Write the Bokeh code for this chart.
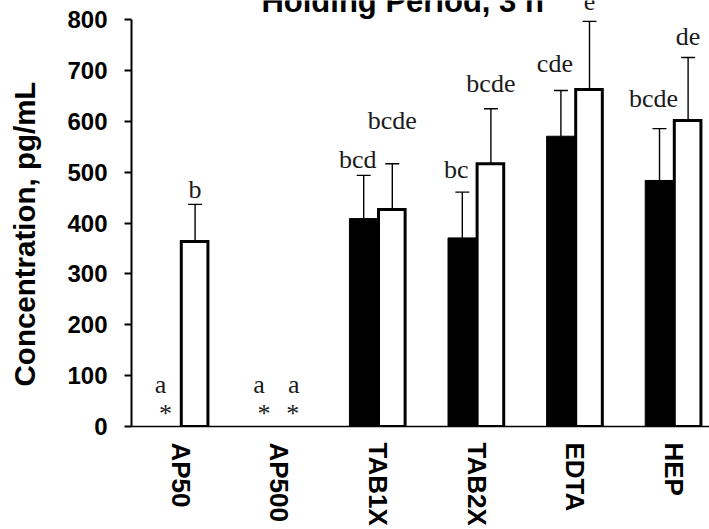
import math

from bokeh.core.properties import value
from bokeh.embed import file_html
from bokeh.layouts import row
from bokeh.models import ColumnDataSource, FixedTicker, Range1d, TeeHead, Whisker
from bokeh.plotting import figure
from bokeh.resources import INLINE

# ---- data -------------------------------------------------------------
categories = ["AP50", "AP500", "TAB1X", "TAB2X", "EDTA", "HEP"]

solid_mean = [0, 0, 409, 371, 571, 484]
solid_err = [0, 0, 85, 90, 90, 102]
solid_letters = ["a", "a", "bcd", "bc", "cde", "bcde"]

open_mean = [364, 0, 427, 517, 663, 602]
open_err = [73, 0, 90, 108, 134, 124]
open_letters = ["b", "a", "bcde", "bcde", "e", "de"]

y_ticks = [0, 100, 200, 300, 400, 500, 600, 700, 800]

# ---- layout / style ---------------------------------------------------
BAR_W = 0.29
SANS = "Liberation Sans"
SERIF = "Liberation Serif"
LABEL_W = 44          # strip on the far left that holds the y title
# pixel gap between the top of each whisker (or the axis) and its letter
solid_gap = [42, 42, 16, 23, 27, 30]
open_gap = [15, 42, 43, 25, 20, 21]
solid_shift = -6
open_shift = 0

# ---- y title strip ----------------------------------------------------
side = figure(
    width=LABEL_W, height=529,
    x_range=Range1d(0, LABEL_W), y_range=Range1d(0, 529),
    x_axis_location=None, y_axis_location=None,
    output_backend="svg", toolbar_location=None,
    min_border_left=0, min_border_right=0, min_border_top=0, min_border_bottom=0,
)
side.outline_line_color = None
side.xgrid.visible = False
side.ygrid.visible = False
side.text(x=[24], y=[239], text=["Concentration, pg/mL"], angle=math.pi / 2,
          text_font=value(SANS), text_font_style="bold", text_font_size="29.5px",
          text_color="black", text_align="center", text_baseline="alphabetic")

# ---- main chart -------------------------------------------------------
p = figure(
    width=709 - LABEL_W, height=529,
    x_range=Range1d(-0.5, 5.362), y_range=Range1d(0, 838),
    output_backend="svg", toolbar_location=None,
    min_border_left=131 - LABEL_W, min_border_right=0,
    min_border_top=0, min_border_bottom=103,
)
p.outline_line_color = None
p.xgrid.visible = False
p.ygrid.visible = False
p.background_fill_color = "white"

idx = list(range(len(categories)))
solid_x = [i - BAR_W / 2 for i in idx]
open_x = [i + BAR_W / 2 for i in idx]

# bars (zero means are not drawn as bars)
sb = ColumnDataSource(dict(
    x=[x for x, m in zip(solid_x, solid_mean) if m > 0],
    top=[m for m in solid_mean if m > 0],
))
ob = ColumnDataSource(dict(
    x=[x - 0.005 for x, m in zip(open_x, open_mean) if m > 0],
    top=[m for m in open_mean if m > 0],
))
p.vbar(x="x", top="top", bottom=0, width=BAR_W, source=sb,
       fill_color="black", line_color="black", line_width=1)
p.vbar(x="x", top="top", bottom=0, width=BAR_W - 0.02, source=ob,
       fill_color="white", line_color="black", line_width=3, line_join="miter")

# upper error bars
ex, elo, ehi = [], [], []
for xs, ms, es in ((solid_x, solid_mean, solid_err), (open_x, open_mean, open_err)):
    for x, m, e in zip(xs, ms, es):
        if e > 0:
            ex.append(x)
            elo.append(m)
            ehi.append(m + e)
es_src = ColumnDataSource(dict(x=ex, lower=elo, upper=ehi))
p.add_layout(Whisker(
    source=es_src, base="x", lower="lower", upper="upper", dimension="height",
    line_color="black", line_width=1.4, level="glyph",
    upper_head=TeeHead(size=14, line_color="black", line_width=1.4),
    lower_head=None,
))

# significance letters
lx, ly, lt, lyo, lxo = [], [], [], [], []
for xs, ms, es, letters, gaps, shift in (
    (solid_x, solid_mean, solid_err, solid_letters, solid_gap, solid_shift),
    (open_x, open_mean, open_err, open_letters, open_gap, open_shift),
):
    for x, m, e, t, g in zip(xs, ms, es, letters, gaps):
        lx.append(x)
        ly.append(m + e)
        lt.append(t)
        lyo.append(-g)
        lxo.append(shift)
p.text(x="x", y="y", text="text", x_offset="xo", y_offset="yo",
       source=ColumnDataSource(dict(x=lx, y=ly, text=lt, xo=lxo, yo=lyo)),
       text_font=value(SERIF), text_font_size="26px", text_color="#1a1a1a",
       text_align="center", text_baseline="alphabetic")

# asterisks mark groups below detection (mean of zero)
sx = [x for x, m in zip(solid_x, solid_mean) if m == 0] + \
     [x for x, m in zip(open_x, open_mean) if m == 0]
sy = [0] * len(sx)
p.text(x=sx, y=sy, text=["*"] * len(sx), x_offset=-1, y_offset=-13,
       text_font=value(SERIF), text_font_size="26px", text_color="#1a1a1a",
       text_align="center", text_baseline="alphabetic")

# chart title, sitting at the very top of the plotting area
p.text(x=[2.25], y=[815], text=["Holding Period, 3 h"], y_offset=-11,
       text_font=value(SANS), text_font_style="bold", text_font_size="31px",
       text_color="black", text_align="center", text_baseline="alphabetic")

# axes
ya = p.yaxis[0]
ya.ticker = FixedTicker(ticks=y_ticks)
ya.bounds = (0, 800)
ya.axis_line_width = 2
ya.axis_line_color = "black"
ya.major_tick_line_width = 2
ya.major_tick_line_color = "black"
ya.major_tick_out = 7
ya.major_tick_in = 0
ya.minor_tick_line_color = None
ya.major_label_standoff = 17
ya.major_label_text_font = SANS
ya.major_label_text_font_style = "bold"
ya.major_label_text_font_size = "24px"
ya.major_label_text_color = "black"

xa = p.xaxis[0]
xa.ticker = FixedTicker(ticks=idx)
xa.major_label_overrides = {i: c for i, c in zip(idx, categories)}
xa.axis_line_width = 1.5
xa.axis_line_color = "black"
xa.major_tick_line_color = None
xa.major_tick_out = 0
xa.major_tick_in = 0
xa.minor_tick_line_color = None
xa.major_label_orientation = -math.pi / 2
xa.major_label_standoff = 16
xa.major_label_text_font = SANS
xa.major_label_text_font_style = "bold"
xa.major_label_text_font_size = "26px"
xa.major_label_text_color = "black"

layout = row(side, p, spacing=0)
open("out.html", "w").write(file_html(layout, INLINE))
